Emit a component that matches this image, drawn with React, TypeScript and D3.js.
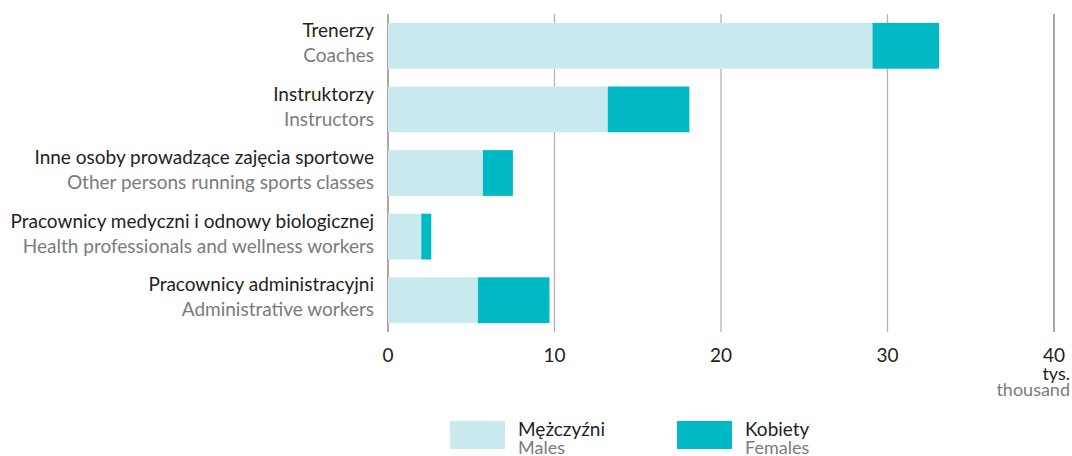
import React from "react";
import * as d3 from "d3";

const categoriesPl = [
  "Trenerzy",
  "Instruktorzy",
  "Inne osoby prowadzące zajęcia sportowe",
  "Pracownicy medyczni i odnowy biologicznej",
  "Pracownicy administracyjni",
];
const categoriesEn = [
  "Coaches",
  "Instructors",
  "Other persons running sports classes",
  "Health professionals  and wellness workers",
  "Administrative workers",
];
const males = [29.1, 13.2, 5.7, 2.0, 5.4];
const females = [4.0, 4.9, 1.8, 0.6, 4.3];
const ticks = [0, 10, 20, 30, 40];
const seriesPl = ["Mężczyźni", "Kobiety"];
const seriesEn = ["Males", "Females"];
const colors = ["#c8eaee", "#00b9c4"];

const W = 1072;
const H = 456;
const FONT = "Lato, 'Open Sans', sans-serif";

export default function App() {
  const x = d3.scaleLinear().domain([0, 40]).range([388, 1054]);
  const y = d3
    .scaleBand<number>()
    .domain(d3.range(categoriesPl.length))
    .range([14, 332])
    .paddingInner(0.28)
    .paddingOuter(0.14);
  const bw = y.bandwidth();

  return (
    <svg
      width={W}
      height={H}
      style={{ position: "absolute", left: 0, top: 0, background: "#fff" }}
      fontFamily={FONT}
    >
      {ticks.map((t) => (
        <line
          key={"g" + t}
          x1={x(t)}
          x2={x(t)}
          y1={14}
          y2={332}
          stroke={t === 0 || t === 40 ? "#7a7a7a" : "#b3b3b3"}
          strokeWidth={1.3}
        />
      ))}
      {categoriesPl.map((c, i) => {
        const y0 = y(i) as number;
        return (
          <g key={c}>
            <rect x={x(0)} y={y0} width={x(males[i]) - x(0)} height={bw} fill={colors[0]} />
            <rect
              x={x(males[i])}
              y={y0}
              width={x(males[i] + females[i]) - x(males[i])}
              height={bw}
              fill={colors[1]}
            />
            <text x={374} y={y0 + 14} textAnchor="end" fontSize={19} fill="#231f20">
              {c}
            </text>
            <text x={374} y={y0 + 39} textAnchor="end" fontSize={19} fill="#7b7b7b">
              {categoriesEn[i]}
            </text>
          </g>
        );
      })}
      {ticks.map((t) => (
        <text key={"t" + t} x={x(t)} y={362} textAnchor="middle" fontSize={19} fill="#231f20">
          {t}
        </text>
      ))}
      <text x={1070} y={380} textAnchor="end" fontSize={18} fill="#231f20">
        tys.
      </text>
      <text x={1070} y={396} textAnchor="end" fontSize={18} fill="#7b7b7b">
        thousand
      </text>
      {seriesPl.map((s, i) => {
        const lx = 450 + i * 227;
        return (
          <g key={s}>
            <rect x={lx} y={421} width={55} height={28} fill={colors[i]} />
            <text x={lx + 68} y={436} fontSize={19} fill="#231f20">
              {s}
            </text>
            <text x={lx + 68} y={454} fontSize={18} fill="#7b7b7b">
              {seriesEn[i]}
            </text>
          </g>
        );
      })}
    </svg>
  );
}
